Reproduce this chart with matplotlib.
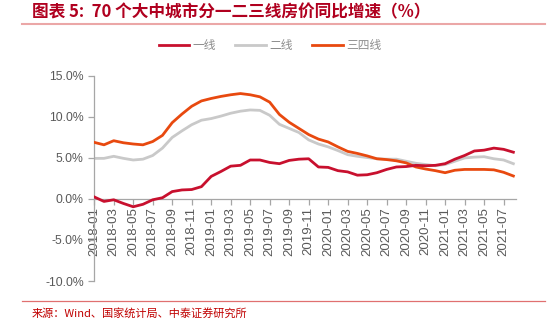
import matplotlib.pyplot as plt
from matplotlib.lines import Line2D

plt.rcParams['font.family'] = ['Liberation Sans', 'Noto Sans CJK SC', 'DejaVu Sans']

months = [f'{y}-{m:02d}' for y in range(2018, 2022) for m in range(1, 13)][:44]

tier1 = [0.25, -0.3, -0.1, -0.55, -0.95, -0.65, -0.1, 0.15, 0.9, 1.1, 1.15, 1.5,
         2.75, 3.35, 4.0, 4.1, 4.75, 4.75, 4.45, 4.3, 4.7, 4.85, 4.9, 3.9,
         3.85, 3.45, 3.3, 2.9, 2.95, 3.2, 3.6, 3.9, 3.95, 4.1, 4.05, 4.1,
         4.3, 4.85, 5.3, 5.85, 5.95, 6.2, 6.05, 5.7]
tier2 = [4.95, 4.95, 5.2, 4.95, 4.75, 4.85, 5.3, 6.2, 7.5, 8.3, 9.05, 9.6,
         9.8, 10.1, 10.45, 10.7, 10.85, 10.8, 10.2, 9.1, 8.6, 8.1, 7.2, 6.7,
         6.35, 5.9, 5.4, 5.2, 5.05, 4.9, 4.85, 4.85, 4.6, 4.35, 4.2, 4.05,
         4.2, 4.6, 5.0, 5.1, 5.15, 4.9, 4.75, 4.3]
tier34 = [6.9, 6.6, 7.1, 6.85, 6.7, 6.6, 7.0, 7.75, 9.3, 10.35, 11.3, 11.95,
          12.25, 12.5, 12.7, 12.85, 12.7, 12.45, 11.8, 10.3, 9.35, 8.6, 7.85, 7.3,
          6.95, 6.35, 5.8, 5.55, 5.25, 4.9, 4.8, 4.65, 4.4, 3.9, 3.65, 3.45,
          3.2, 3.5, 3.6, 3.6, 3.6, 3.55, 3.25, 2.8]

series_names = ['一线', '二线', '三四线']
colors = ['#C8102E', '#C9C9C9', '#E8490F']

fig = plt.figure(figsize=(5.51, 3.23), dpi=100)
ax = fig.add_axes([0.171, 0.130, 0.766, 0.635])

x = list(range(len(months)))
ax.plot(x, tier2, color=colors[1], lw=2.0, zorder=2)
ax.plot(x, tier34, color=colors[2], lw=2.0, zorder=3)
ax.plot(x, tier1, color=colors[0], lw=2.0, zorder=4)

for s in ['top', 'right']:
    ax.spines[s].set_visible(False)
ax.spines['bottom'].set_position(('data', 0))
for s in ['left', 'bottom']:
    ax.spines[s].set_color('#A6A6A6')
    ax.spines[s].set_linewidth(0.9)

ax.set_xlim(0, 43.3)
ax.set_ylim(-10, 15)
ax.set_yticks([-10, -5, 0, 5, 10, 15])
ax.set_yticklabels([f'{v:.1f}%' for v in [-10, -5, 0, 5, 10, 15]])
ax.set_xticks(x[::2])
ax.set_xticklabels(months[::2])
ax.tick_params(axis='both', colors='#A6A6A6', length=4, width=0.9,
               labelcolor='#595959', labelsize=8.8)
ax.tick_params(axis='x', labelrotation=90, pad=2, labelsize=9.5)

handles = [Line2D([0], [0], color=c, lw=2.0) for c in colors]
fig.legend(handles, series_names, loc='center', bbox_to_anchor=(0.49, 0.86), ncol=3,
           frameon=False, handlelength=2.6, handletextpad=0.3, columnspacing=1.6,
           prop={'family': 'Noto Sans CJK SC', 'size': 8.5}, labelcolor='#8C8C8C')

fig.text(0.058, 0.962, '图表 5:  70 个大中城市分一二三线房价同比增速（%）',
         color='#B0001F', fontsize=12, fontweight='bold', fontstyle='italic',
         family=['Noto Sans CJK SC', 'DejaVu Sans'], va='center')
fig.add_artist(Line2D([0.04, 0.99], [0.927, 0.927], color='#EBA7A7', lw=1.5))
fig.add_artist(Line2D([0.04, 0.99], [0.068, 0.068], color='#E07070', lw=0.9))
fig.text(0.058, 0.03, '来源：Wind、国家统计局、中泰证券研究所', color='#C00000',
         fontsize=8, family=['Noto Sans CJK SC', 'DejaVu Sans'], va='center')

fig.savefig('out.png', dpi=100)
